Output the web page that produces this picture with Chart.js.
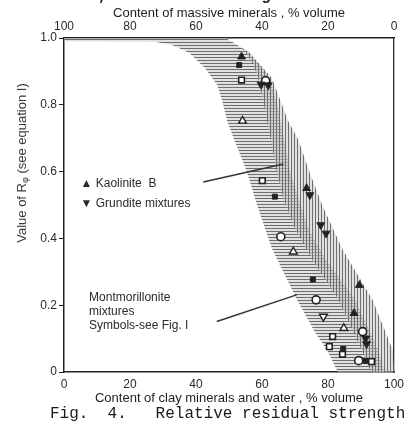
<!DOCTYPE html>
<html>
<head>
<meta charset="utf-8">
<script src="https://cdn.jsdelivr.net/npm/chart.js@4"></script>
<style>
body{margin:0;background:#fff;width:415px;height:426px;overflow:hidden;position:relative}
#wrap{position:absolute;left:0;top:0;width:415px;height:426px}
.mono{position:absolute;font-family:"Liberation Mono",monospace;white-space:pre;color:#1a1a1a}
#top{top:-13px;left:2px;font-size:16px;font-weight:bold}
#cap{top:405px;left:50px;font-size:16px}
</style>
</head>
<body>
<div id="wrap"><canvas id="grafico" width="415" height="426"></canvas></div>
<div class="mono" id="top">essed soil, thus maintaining the relati</div>
<div class="mono" id="cap">Fig.  4.   Relative residual strength</div>
<script>

// clay %, R values
let xTicks = [0,20,40,60,80,100]
let yTicks = [0,0.2,0.4,0.6,0.8,1.0]

// edges of the hatched zone
let edgeLeft = [[0,0.99],[28,0.988],[33,0.978],[38,0.955],[42.7,0.91],[46.4,0.86],[48,0.81],[49.5,0.75],[51.8,0.69],[55.4,0.6],[58.5,0.5],[63,0.37],[70.6,0.216],[76,0.12],[79.7,0.066],[83,0]]
let edgeMid = [[0,1],[49,1],[56,0.958],[61,0.9],[63,0.86],[65,0.78],[67,0.68],[68.5,0.6],[71,0.52],[74,0.43],[79,0.34],[88,0.22],[95,0.07],[97,0]]
let edgeKaol = [[54,0.97],[57.5,0.92],[59.4,0.86],[61,0.78],[63,0.68],[64.5,0.6],[66.5,0.52],[70,0.43],[75,0.34],[83,0.22],[90,0.07],[93,0]]
let edgeRight = [[56,0.958],[63,0.88],[68,0.75],[71,0.695],[74.5,0.596],[78.5,0.494],[84.5,0.365],[93.5,0.216],[99.6,0.066],[100,0]]

// points
let kaolinite = [[53.8,0.944],[73.5,0.55],[89.5,0.26],[87.9,0.176]]
let grundite = [[59.7,0.861],[61.9,0.859],[74.5,0.53],[77.8,0.44],[79.4,0.415],[91.4,0.101],[91.7,0.084]]
let openSquare = [[53.8,0.874],[60.1,0.573],[81.4,0.106],[80.4,0.076],[84.4,0.053],[93.2,0.031]]
let openCircle = [[61.1,0.872],[65.7,0.405],[76.4,0.216],[90.5,0.121],[89.3,0.034]]
let openTriUp = [[54.1,0.752],[69.5,0.36],[84.8,0.131]]
let openTriDown = [[78.6,0.166]]
let fullSquare = [[53.1,0.919],[63.9,0.525],[75.4,0.277],[84.6,0.069],[91.5,0.033]]

let pointerKaol = [[42.2,0.569],[66.5,0.623]]
let pointerMont = [[46.3,0.151],[70.5,0.231]]

function pts(a){ return a.map(p=>({x:p[0],y:p[1]})) }

function hatch(ctx,dir){
  let c = document.createElement("canvas")
  c.width = 3; c.height = 3
  let g = c.getContext("2d")
  g.fillStyle = "rgba(200,200,200,0.55)"
  g.fillRect(0,0,3,3)
  g.fillStyle = "#6e6e6e"
  if(dir=="h") g.fillRect(0,0,3,1)
  else g.fillRect(0,0,1,3)
  return ctx.createPattern(c,"repeat")
}

function band(chart,a,b,dir){
  let ctx = chart.ctx, sx = chart.scales.x, sy = chart.scales.y
  let all = a.concat(b.slice().reverse())
  ctx.save()
  ctx.beginPath()
  ctx.rect(chart.chartArea.left,chart.chartArea.top,chart.chartArea.width,chart.chartArea.height)
  ctx.clip()
  ctx.beginPath()
  all.forEach((p,i)=>{
    let px = sx.getPixelForValue(p[0]), py = sy.getPixelForValue(p[1])
    if(i==0) ctx.moveTo(px,py); else ctx.lineTo(px,py)
  })
  ctx.closePath()
  ctx.fillStyle = hatch(ctx,dir)
  ctx.fill()
  ctx.restore()
}

let bands = {
  id:"bands",
  beforeDatasetsDraw(chart){
    band(chart,edgeLeft,edgeMid,"h")
    band(chart,edgeKaol,edgeRight,"v")
  },
  afterDraw(chart){
    let ctx = chart.ctx, sx = chart.scales.x, sy = chart.scales.y
    ctx.save()
    ctx.fillStyle = "#2a2a2a"
    ctx.font = "12px 'Liberation Sans'"
    ctx.textBaseline = "middle"
    ctx.fillText("▲ Kaolinite  B", sx.getPixelForValue(5), sy.getPixelForValue(0.563))
    ctx.fillText("▼ Grundite mixtures", sx.getPixelForValue(5), sy.getPixelForValue(0.503))
    let mx = sx.getPixelForValue(7.6)
    ctx.fillText("Montmorillonite", mx, sy.getPixelForValue(0.222))
    ctx.fillText("mixtures", mx, sy.getPixelForValue(0.18))
    ctx.fillText("Symbols-see Fig. I", mx, sy.getPixelForValue(0.138))

    // y axis title with subscript
    ctx.translate(22,163)
    ctx.rotate(-Math.PI/2)
    ctx.fillStyle = "#3a3a3a"
    let big = "13px 'Liberation Sans'", small = "9px 'Liberation Sans'"
    let t1 = "Value of R", t2 = "\u03c6", t3 = " (see equation I)"
    ctx.font = big
    let w1 = ctx.measureText(t1).width, w3 = ctx.measureText(t3).width
    ctx.font = small
    let w2 = ctx.measureText(t2).width
    let x0 = -(w1+w2+w3)/2
    ctx.font = big
    ctx.fillText(t1,x0,0)
    ctx.font = small
    ctx.fillText(t2,x0+w1,4)
    ctx.font = big
    ctx.fillText(t3,x0+w1+w2,0)
    ctx.restore()
  }
}

let ink = "#222"

new Chart(document.getElementById("grafico"),{
  type:"scatter",
  data:{
    datasets:[
      {data:pts(kaolinite),pointStyle:"triangle",pointRadius:4.5,backgroundColor:ink,borderColor:ink,borderWidth:1},
      {data:pts(grundite),pointStyle:"triangle",rotation:180,pointRadius:4.5,backgroundColor:ink,borderColor:ink,borderWidth:1},
      {data:pts(openSquare),pointStyle:"rect",pointRadius:4,backgroundColor:"#fff",borderColor:ink,borderWidth:1.6},
      {data:pts(openCircle),pointStyle:"circle",pointRadius:4,backgroundColor:"#fff",borderColor:ink,borderWidth:1.6},
      {data:pts(openTriUp),pointStyle:"triangle",pointRadius:4.5,backgroundColor:"#fff",borderColor:ink,borderWidth:1.4},
      {data:pts(openTriDown),pointStyle:"triangle",rotation:180,pointRadius:4.5,backgroundColor:"#fff",borderColor:ink,borderWidth:1.4},
      {data:pts(fullSquare),pointStyle:"rect",pointRadius:3.5,backgroundColor:ink,borderColor:ink,borderWidth:1},
      {data:pts(pointerKaol),showLine:true,pointRadius:0,borderColor:"#333",borderWidth:1.5},
      {data:pts(pointerMont),showLine:true,pointRadius:0,borderColor:"#333",borderWidth:1.5}
    ]
  },
  options:{
    responsive:false,
    animation:false,
    layout:{padding:{left:0,right:21,top:0,bottom:18}},
    plugins:{legend:{display:false},tooltip:{enabled:false}},
    scales:{
      x:{
        type:"linear",position:"bottom",min:0,max:100,
        afterFit(s){ s.height = 36 },
        afterBuildTicks(s){ s.ticks = xTicks.map(v=>({value:v})) },
        grid:{display:true,drawOnChartArea:false,drawTicks:false},
        border:{color:ink,width:1.5},
        ticks:{color:"#2a2a2a",font:{family:"Liberation Sans",size:12},padding:5},
        title:{display:true,text:"Content of clay minerals and water , % volume",color:"#1e1e1e",font:{family:"Liberation Sans",size:13},padding:{top:0,bottom:2}}
      },
      x2:{
        type:"linear",position:"top",min:0,max:100,reverse:true,
        afterFit(s){ s.height = 38 },
        afterBuildTicks(s){ s.ticks = xTicks.map(v=>({value:v})) },
        grid:{display:true,drawOnChartArea:false,drawTicks:false},
        border:{color:ink,width:1.5},
        ticks:{color:"#2a2a2a",font:{family:"Liberation Sans",size:12},padding:4},
        title:{display:true,text:"Content of massive minerals , % volume",color:"#1e1e1e",font:{family:"Liberation Sans",size:13},padding:{top:6,bottom:0}}
      },
      y:{
        type:"linear",position:"left",min:0,max:1,
        afterFit(s){ s.width = 64 },
        afterBuildTicks(s){ s.ticks = yTicks.map(v=>({value:v})) },
        grid:{display:true,drawOnChartArea:false,tickLength:5,color:ink},
        border:{color:ink,width:1.5},
        ticks:{color:"#2a2a2a",font:{family:"Liberation Sans",size:12},padding:2,
          callback:v=> v==0 ? "0" : v.toFixed(1)}
      },
      y2:{
        type:"linear",position:"right",min:0,max:1,
        afterFit(s){ s.width = 0 },
        grid:{display:false},
        border:{color:"#2a2a2a",width:1.3},
        ticks:{display:false}
      }
    }
  },
  plugins:[bands]
})

</script>
</body>
</html>
